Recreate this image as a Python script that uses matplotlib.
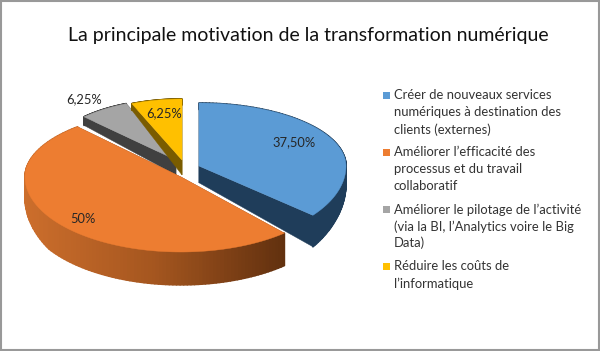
import numpy as np
import matplotlib
matplotlib.use('Agg')
import matplotlib.pyplot as plt
from matplotlib.patches import Polygon, Rectangle
from matplotlib.colors import LinearSegmentedColormap

# Data
values = [37.5, 50, 6.25, 6.25]
value_labels = ['37,50%', '50%', '6,25%', '6,25%']
legend_lines = [
    ['Créer de nouveaux services', 'numériques à destination des', 'clients (externes)'],
    ['Améliorer l’efficacité des', 'processus et du travail', 'collaboratif'],
    ['Améliorer le pilotage de l’activité', '(via la BI, l’Analytics voire le Big', 'Data)'],
    ['Réduire les coûts de', 'l’informatique'],
]
title = 'La principale motivation de la transformation numérique'

colors = ['#5B9BD5', '#ED7D31', '#A5A5A5', '#FFC000']
side_colors = ['#1F3D5A', '#8A4A1C', '#404040', '#7A5C00']

# Layout in pixels: centre x, centre y, x radius, rear y radius, front y radius, angle warp
geometry = [
    (199, 166, 147, 63, 78, -5.8),
    (181, 177, 156, 67, 75, 3.5),
    (176, 160, 130, 61, 61, 0),
    (182, 160, 131, 61, 61, 0),
]
label_pos = [(294, 142), (83, 219), (84, 99), (164, 113)]
legend_y = [[95, 112.5, 129.5], [152, 169, 186], [209.5, 226.5, 243], [266, 284]]

plt.rcParams['font.family'] = ['Lato', 'DejaVu Sans']

fig = plt.figure(figsize=(6, 3.51), dpi=100)
ax = fig.add_axes([0, 0, 1, 1])
ax.set_xlim(0, 600)
ax.set_ylim(351, 0)
ax.axis('off')

orange_side = LinearSegmentedColormap.from_list('orange_side', ['#CC6E2C', '#A5561F', '#62310F'])


def depth_at(y):
    # slices get thicker towards the viewer
    return np.interp(y, [100, 160, 217, 260], [6, 15, 32, 33])


def arc(geo, a0, a1):
    # the tilt moves the cut lines a little, hence the warp on the angle
    cx, cy, rx, back, front, warp = geo
    t = np.radians(np.linspace(a0, a1, 120))
    t = t - np.radians(warp) * np.sin(2 * t)
    x = cx + rx * np.sin(t)
    y = cy - np.where(np.cos(t) > 0, back, front) * np.cos(t)
    return x, y


def draw_slice(geo, a0, a1, color, side_color, gradient=False):
    cx, cy = geo[0], geo[1]
    x, y = arc(geo, a0, a1)
    for px, py in [(x[0], y[0]), (x[-1], y[-1])]:
        ax.add_patch(Polygon([(cx, cy), (px, py), (px, py + depth_at(py)), (cx, cy + depth_at(cy))],
                             closed=True, fc=side_color, ec=side_color, lw=0.3))
    for i in range(len(x) - 1):
        c = side_color
        if gradient:
            c = orange_side((x[i] - x.min()) / (x.max() - x.min()))
        # wide edges so the strips close up without stripes
        ax.add_patch(Polygon([(x[i], y[i]), (x[i + 1], y[i + 1]),
                              (x[i + 1], y[i + 1] + depth_at(y[i + 1])), (x[i], y[i] + depth_at(y[i]))],
                             closed=True, fc=c, ec=c, lw=1.2, joinstyle='round'))
    top = np.column_stack([np.r_[cx, x], np.r_[cy, y]])
    ax.add_patch(Polygon(top, closed=True, fc=color, ec=color, lw=0.3))


# Slice angles come from the values, clockwise from twelve o'clock
edges = np.r_[0, np.cumsum(values)] / sum(values) * 360

for i in [0, 2, 3, 1]:
    draw_slice(geometry[i], edges[i], edges[i + 1], colors[i], side_colors[i], gradient=i == 1)

for (lx, ly), lab in zip(label_pos, value_labels):
    ax.text(lx, ly, lab, ha='center', va='center', fontsize=9.3, color='#262626')

ax.text(308, 36, title, ha='center', va='center', fontsize=14.0, color='#111111')

for lines, ys, c in zip(legend_lines, legend_y, colors):
    ax.add_patch(Rectangle((383, ys[0] - 3.5), 7, 7, fc=c, ec='none'))
    for line, y in zip(lines, ys):
        ax.text(394, y, line, ha='left', va='center', fontsize=9.4, color='#333333')

# grey frame round the picture
ax.add_patch(Rectangle((0.5, 0.5), 598.5, 349.5, fc='none', ec='#999999', lw=1.5))

fig.savefig('out.png', dpi=100)
